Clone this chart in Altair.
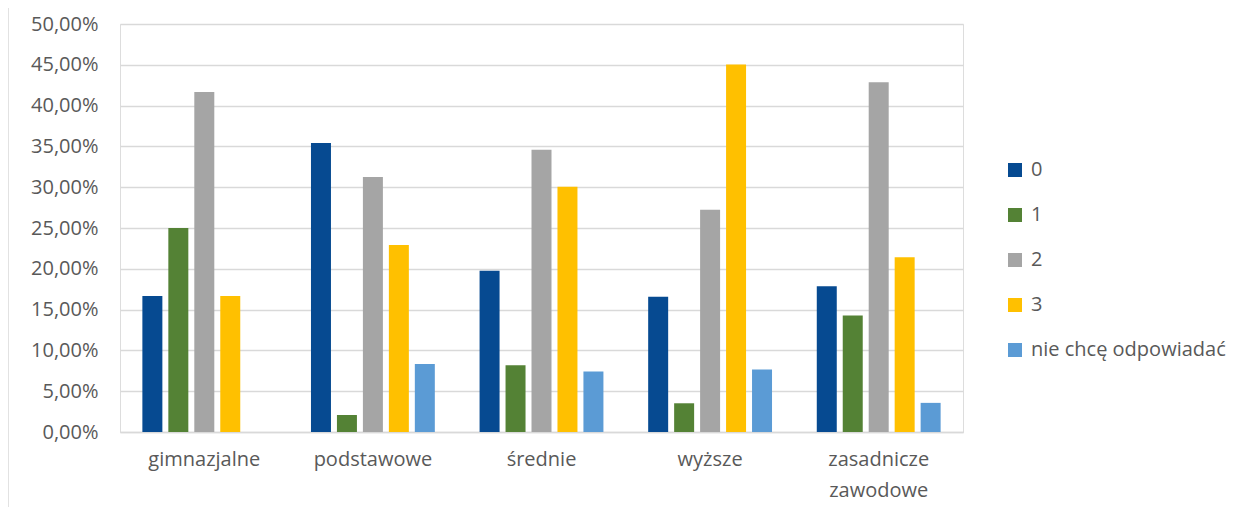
import altair as alt
import pandas as pd

categories = ["gimnazjalne", "podstawowe", "średnie", "wyższe", "zasadnicze zawodowe"]
series = ["0", "1", "2", "3", "nie chcę odpowiadać"]
values = {
    "0": [0.1667, 0.3542, 0.1975, 0.1656, 0.1786],
    "1": [0.2500, 0.0208, 0.0818, 0.0352, 0.1429],
    "2": [0.4167, 0.3125, 0.3459, 0.2723, 0.4286],
    "3": [0.1667, 0.2292, 0.3005, 0.4505, 0.2143],
    "nie chcę odpowiadać": [0.0, 0.0833, 0.0740, 0.0765, 0.0357],
}
colors = ["#064A91", "#548235", "#A5A5A5", "#FFC000", "#5B9BD5"]
y_ticks = [0, 0.05, 0.10, 0.15, 0.20, 0.25, 0.30, 0.35, 0.40, 0.45, 0.50]

rows = []
for s in series:
    for c, v in zip(categories, values[s]):
        rows.append({"kategoria": c, "seria": s, "wartosc": v})
df = pd.DataFrame(rows)

FONT = "Open Sans"
TXT = "#595959"
FS = 20

bars = alt.Chart(df).mark_bar().encode(
    x=alt.X("kategoria:N", sort=categories,
            scale=alt.Scale(paddingInner=0.23, paddingOuter=0.115),
            axis=alt.Axis(title=None, labelAngle=0, ticks=False, domain=True,
                          domainColor="#D9D9D9", domainWidth=1.5,
                          labelPadding=17, labelFontSize=FS, labelColor=TXT,
                          labelFont=FONT, labelLineHeight=31,
                          labelExpr="datum.label == 'zasadnicze zawodowe' ? ['zasadnicze', 'zawodowe'] : datum.label")),
    xOffset=alt.XOffset("seria:N", sort=series,
                        scale=alt.Scale(paddingInner=0.23, paddingOuter=0.115)),
    y=alt.Y("wartosc:Q",
            scale=alt.Scale(domain=[0, 0.5], nice=False),
            axis=alt.Axis(title=None, values=y_ticks, ticks=False, domain=False,
                          gridColor="#D9D9D9", gridWidth=1.5,
                          labelPadding=22, labelFontSize=FS, labelColor=TXT,
                          labelFont=FONT,
                          labelExpr="replace(format(datum.value, '.2%'), '.', ',')")),
    color=alt.Color("seria:N", sort=series,
                    scale=alt.Scale(domain=series, range=colors),
                    legend=alt.Legend(title=None, orient="none", legendX=885, legendY=136,
                                      symbolType="square", symbolSize=196,
                                      symbolStrokeWidth=0, labelFontSize=FS,
                                      labelColor=TXT, labelFont=FONT, labelLimit=400,
                                      rowPadding=25, labelOffset=6)),
)

border = alt.Chart(pd.DataFrame({"k": [0]})).mark_rule(color="#D9D9D9", strokeWidth=1.5).encode(
    x=alt.value(-112), y=alt.value(-16), y2=alt.value(500)
)

chart = alt.layer(bars, border).properties(
    width=843, height=408,
    autosize=alt.AutoSizeParams(type="none"),
    padding={"left": 112, "top": 16, "right": 265, "bottom": 75},
).configure_view(stroke=None).configure(background="white")

chart.save("out.html", embed_options={"renderer": "svg", "actions": False})
